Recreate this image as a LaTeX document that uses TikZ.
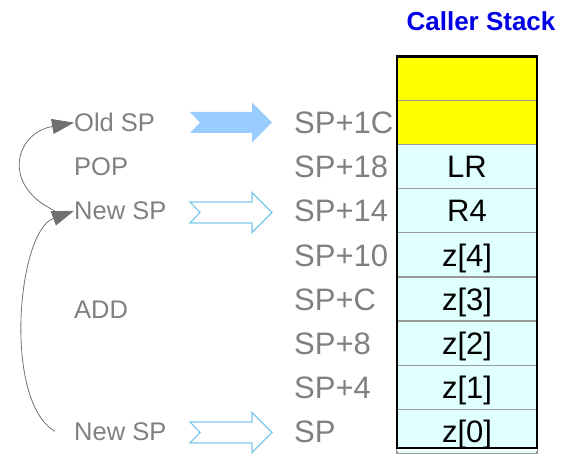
\documentclass[tikz,border=0pt]{standalone}
\usepackage{fontspec}
\setmainfont{Liberation Sans}
\usepackage{tikz}
\usetikzlibrary{arrows.meta,positioning}
\definecolor{stkcyan}{RGB}{224,255,255}
\definecolor{stkyellow}{RGB}{255,255,0}
\definecolor{lblgray}{RGB}{128,128,128}
\definecolor{jmpgray}{RGB}{112,112,112}
\definecolor{spfill}{RGB}{153,204,255}
\definecolor{spline}{RGB}{125,200,235}
\definecolor{ttlblue}{RGB}{0,0,230}

\begin{document}
\begin{tikzpicture}[x=1pt,y=1pt,node distance=0pt,
  cell/.style={draw=gray!80,line width=1.2pt,fill=stkcyan,minimum width=140pt,minimum height=44.1pt,inner sep=0pt,outer sep=0pt,font=\fontsize{31}{37}\selectfont,text height=22.2pt,text depth=0pt},
  ycell/.style={cell,fill=stkyellow},
  offs/.style={anchor=west,inner sep=0pt,text=lblgray,font=\fontsize{31}{37}\selectfont,text height=22.2pt,text depth=0pt},
  lab/.style={anchor=west,inner sep=0pt,text=lblgray,font=\fontsize{25.5}{30}\selectfont,text height=18.3pt,text depth=0pt},
  blkfill/.style={fill=spfill},
  blkline/.style={draw=spline,line width=1.2pt},
  jmp/.style={draw=jmpgray,line width=0.8pt,-{Triangle[length=22pt,width=15pt]}}]
\useasboundingbox (0,0) rectangle (572,454);
% the stack
\node[ycell] (c1) at (467,375.45) {};
\node[ycell,below=of c1] (c2) {};
\node[cell,below=of c2] (lr) {LR};
\node[cell,below=of lr] (r4) {R4};
\node[cell,below=of r4] (z4) {z[4]};
\node[cell,below=of z4] (z3) {z[3]};
\node[cell,below=of z3] (z2) {z[2]};
\node[cell,below=of z2] (z1) {z[1]};
\node[cell,below=of z1] (z0) {z[0]};
\draw[white,line width=2pt] ([yshift=3.6pt]z0.south west) -- ([yshift=3.6pt]z0.south east);
\draw[line width=2.5pt] (c1.north west) rectangle ([yshift=5.4pt]z0.south east);
\node[font=\bfseries\fontsize{26}{31}\selectfont,text=ttlblue,inner sep=0pt,text height=18.6pt,text depth=0pt] (title) at (481,433) {Caller Stack};
% offsets from SP
\foreach \cl/\txt/\nm in {c2/SP+1C/o1c, lr/SP+18/o18, r4/SP+14/o14, z4/SP+10/o10, z3/SP+C/ooc, z2/SP+8/o8, z1/SP+4/o4, z0/SP/osp}
  \node[offs] (\nm) at (294,0 |- \cl) {\txt};
% pointer arrows
\foreach \yy/\sty in {331.5/blkfill, 241.5/blkline, 21.5/blkline}
  \path[\sty,shift={(231,\yy)}] (-41,10.5) -- (21,10.5) -- (21,20) -- (41,0) -- (21,-20) -- (21,-10.5) -- (-41,-10.5) -- (-31,0) -- cycle;
% instructions
\node[lab] (oldsp) at (74,0 |- c2) {Old SP};
\node[lab] (pop) at (74,0 |- lr) {POP};
\node[lab] (newsp) at (74,0 |- r4) {New SP};
\node[lab] (add) at (74,145) {ADD};
\node[lab] (newsp0) at (74,0 |- z0) {New SP};
\draw[jmp] ([xshift=-19pt]newsp.west) to[out=155,in=190,looseness=1.7] (oldsp.west);
\draw[jmp] ([xshift=-19pt]newsp0.west) to[out=150,in=200,looseness=0.7] (newsp.west);
\end{tikzpicture}
\end{document}
